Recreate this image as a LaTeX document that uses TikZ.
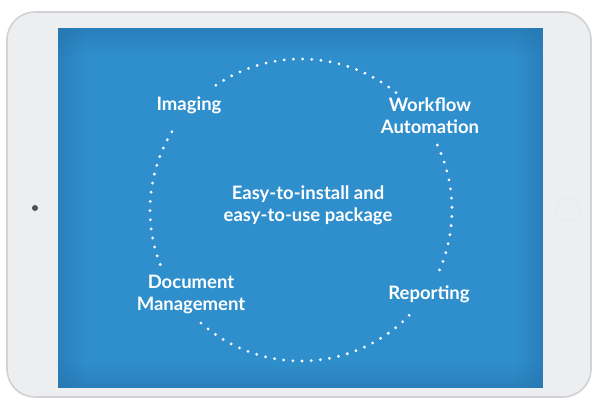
\documentclass[tikz,border=0pt]{standalone}
\usepackage{fontspec}
\setmainfont{Lato}
\usetikzlibrary{ % tikz packages
    positioning,fadings
}
\definecolor{screenblue}{HTML}{2F8FCC}
\definecolor{screenedge}{HTML}{2672AC}
\definecolor{casegray}{HTML}{EDEEF0}
\definecolor{caserim}{HTML}{D0D2D5}
\definecolor{camgray}{HTML}{4A525B}
\tikzfading[name=fade from left, left color=transparent!0, right color=transparent!100]
\tikzfading[name=fade from right, left color=transparent!100, right color=transparent!0]
\tikzfading[name=fade from top, top color=transparent!0, bottom color=transparent!100]
\tikzfading[name=fade from bottom, top color=transparent!100, bottom color=transparent!0]
\tikzset{topic/.style={
    text=white,
    font=\fontsize{18.5}{22}\selectfont\bfseries,
    align=center
}}
\tikzset{ring/.style={
    white,
    line width=3.1pt,
    line cap=round,
    dash pattern=on 0pt off 9.2pt
}}

\begin{document}
\begin{tikzpicture}[x=1pt,y=1pt,node distance=100pt,on grid]
        \useasboundingbox (0,0) rectangle (592,398);

        % tablet case
        \filldraw[fill=casegray, draw=caserim, line width=1.6pt, rounded corners=28pt]
            (7,1) rectangle (591,386);
        \fill[camgray] (35,190) circle (3);
        \draw[caserim!45, line width=1.4pt] (568,189) circle (12);
        \draw[caserim!35, line width=1pt] (568,189) circle (5);

        % screen
        \fill[screenblue] (58,10) rectangle (543,370);
        \fill[screenedge, opacity=0.55, path fading=fade from left] (58,10) rectangle (86,370);
        \fill[screenedge, opacity=0.55, path fading=fade from right] (515,10) rectangle (543,370);
        \fill[screenedge, opacity=0.55, path fading=fade from top] (58,342) rectangle (543,370);
        \fill[screenedge, opacity=0.55, path fading=fade from bottom] (58,10) rectangle (543,36);

        % dotted ring
        \coordinate (ringc) at (301,188);
        \draw[ring] (ringc) ++(51:151) arc[start angle=51, end angle=127, radius=151];
        \draw[ring] (ringc) ++(148.8:151) arc[start angle=148.8, end angle=202.3, radius=151];
        \draw[ring] (ringc) ++(228.5:151) arc[start angle=228.5, end angle=318, radius=151];
        \draw[ring] (ringc) ++(-23.4:151) arc[start angle=-23.4, end angle=25.6, radius=151];

        % labels
        \node[topic] (hub) at (308,193) {Easy-to-install and\\easy-to-use package};
        \node[topic] (imaging) [above left=100pt and 119pt of hub] {Imaging};
        \node[topic] (workflow) [above right=89.5pt and 122pt of hub] {Workflow\\Automation};
        \node[topic] (docmgmt) [below left=89.5pt and 117pt of hub] {Document\\Management};
        \node[topic] (reporting) [below right=89pt and 121pt of hub] {Reporting};
    \end{tikzpicture}
\end{document}
